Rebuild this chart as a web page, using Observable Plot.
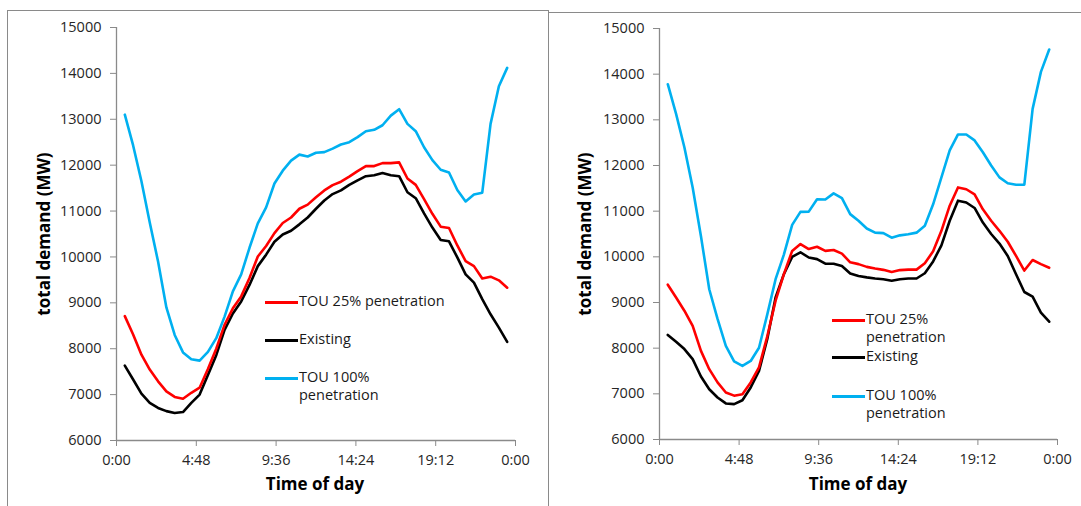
<!DOCTYPE html>
<html>
<head>
<meta charset="utf-8">
<script src="https://cdn.jsdelivr.net/npm/d3@7"></script>
<script src="https://cdn.jsdelivr.net/npm/@observablehq/plot@0.6"></script>
<style>
  html, body { margin: 0; padding: 0; background: #fff; }
  body { font-family: "Open Sans", sans-serif; }
  #page { position: relative; width: 1081px; height: 506px; overflow: hidden; background: #fff; }
  .box { position: absolute; border: 1.5px solid #8a8a8a; box-sizing: border-box; }
  .plot { position: absolute; top: 0; }
  .xlab { position: absolute; font-weight: bold; font-size: 17px; transform: translate(-50%, -50%); white-space: nowrap; color: #000; }
  .ylab { position: absolute; font-weight: bold; font-size: 17px; transform: translate(-50%, -50%) rotate(-90deg); white-space: nowrap; color: #000; }
  .legtxt { position: absolute; font-size: 14.5px; line-height: 18px; white-space: pre; color: #1a1a1a; }
  .sw { position: absolute; height: 3px; width: 33px; }
</style>
</head>
<body>
<div id="page"></div>
<script>
// ---------- data ----------
const hours = [0.5,1,1.5,2,2.5,3,3.5,4,4.5,5,5.5,6,6.5,7,7.5,8,8.5,9,9.5,10,10.5,11,11.5,12,12.5,13,13.5,14,14.5,15,15.5,16,16.5,17,17.5,18,18.5,19,19.5,20,20.5,21,21.5,22,22.5,23,23.5];

const seriesNames = ["TOU 25% penetration", "Existing", "TOU 100% penetration"];
const seriesColors = ["#ff0000", "#000000", "#00b0f0"];

// left panel
const leftTou25 = [8710,8310,7870,7545,7290,7070,6950,6910,7040,7150,7560,8000,8520,8880,9140,9540,10010,10240,10520,10740,10860,11050,11140,11300,11450,11565,11640,11750,11870,11980,11980,12045,12045,12060,11710,11570,11260,10940,10660,10630,10250,9910,9800,9530,9570,9490,9330];
const leftExisting = [7630,7330,7020,6820,6710,6640,6600,6620,6820,7000,7430,7860,8410,8770,9030,9390,9800,10050,10330,10490,10570,10710,10860,11050,11230,11370,11450,11570,11670,11760,11780,11830,11780,11760,11410,11280,10950,10640,10370,10340,9990,9620,9440,9080,8750,8460,8150];
const leftTou100 = [13100,12430,11650,10750,9900,8900,8300,7920,7770,7740,7930,8230,8700,9250,9620,10200,10730,11080,11600,11880,12100,12230,12190,12270,12285,12360,12450,12500,12610,12740,12770,12870,13080,13220,12900,12740,12390,12110,11900,11840,11460,11210,11360,11400,12900,13720,14120];

// right panel
const rightTou25 = [9390,9110,8820,8490,7940,7540,7250,7030,6960,6990,7250,7580,8260,9040,9620,10130,10280,10170,10220,10130,10150,10070,9880,9840,9780,9745,9715,9670,9710,9720,9720,9860,10120,10570,11120,11520,11480,11370,11040,10790,10570,10330,10020,9700,9930,9840,9760];
const rightExisting = [8290,8140,7980,7760,7380,7100,6920,6790,6775,6860,7140,7500,8200,9110,9620,10000,10100,9985,9950,9850,9850,9800,9635,9580,9550,9525,9510,9475,9510,9525,9525,9640,9900,10250,10790,11230,11190,11070,10750,10500,10290,10020,9620,9230,9130,8780,8580];
const rightTou100 = [13780,13130,12400,11520,10450,9290,8640,8050,7710,7610,7720,8010,8740,9510,10050,10700,10985,10990,11260,11255,11390,11285,10935,10790,10620,10530,10520,10420,10470,10495,10530,10680,11150,11740,12330,12680,12680,12550,12290,12000,11740,11610,11580,11580,13240,14050,14540];

const xTicks = [0, 4.8, 9.6, 14.4, 19.2, 24];
const xTickLabels = ["0:00", "4:48", "9:36", "14:24", "19:12", "0:00"];
const yTicks = [6000, 7000, 8000, 9000, 10000, 11000, 12000, 13000, 14000, 15000];
const xTitle = "Time of day";
const yTitle = "total demand (MW)";
const leftLegend = ["TOU 25% penetration", "Existing", "TOU 100%\npenetration"];
const rightLegend = ["TOU 25%\npenetration", "Existing", "TOU 100%\npenetration"];

// ---------- drawing ----------
const page = document.getElementById("page");

function addBox(left, top, width, height) {
  const d = document.createElement("div");
  d.className = "box";
  Object.assign(d.style, {left: left + "px", top: top + "px", width: width + "px", height: height + "px"});
  page.appendChild(d);
}
addBox(7, 10, 542, 520);
addBox(548, 12, 560, 520);

function panel(series, m) {
  const rows = [];
  series.forEach((vals, i) => vals.forEach((v, j) => rows.push({hour: hours[j], value: v, series: seriesNames[i]})));
  const order = [1, 0, 2];
  return Plot.plot({
    width: 541,
    height: 506,
    marginLeft: m.ml, marginRight: m.mr, marginTop: m.mt, marginBottom: m.mb,
    style: {fontFamily: '"Open Sans", sans-serif', fontSize: "14.5px", background: "transparent", color: "#262626", overflow: "visible"},
    x: {domain: [0, 24], label: null},
    y: {domain: [6000, 15000], label: null},
    color: {domain: seriesNames, range: seriesColors},
    marks: [
      Plot.ruleY([6000], {stroke: "#8a8a8a", strokeWidth: 1.3}),
      Plot.ruleX([0], {stroke: "#8a8a8a", strokeWidth: 1.3}),
      Plot.axisX({ticks: xTicks, tickFormat: d => xTickLabels[xTicks.indexOf(d)], tickSize: 6, tickPadding: 8, stroke: "#8a8a8a", fill: "#262626", label: null}),
      Plot.axisY({ticks: yTicks, tickFormat: d => String(d), tickSize: 6, tickPadding: 9, stroke: "#8a8a8a", fill: "#262626", label: null}),
      ...order.map(i => Plot.line(rows.filter(r => r.series === seriesNames[i]), {x: "hour", y: "value", stroke: "series", strokeWidth: 2.6}))
    ]
  });
}

function addPlot(svg, left) {
  svg.classList.add("plot");
  svg.style.left = left + "px";
  page.appendChild(svg);
}

addPlot(panel([leftTou25, leftExisting, leftTou100], {ml: 116, mr: 26, mt: 27, mb: 66}), 0);
addPlot(panel([rightTou25, rightExisting, rightTou100], {ml: 119, mr: 24, mt: 28, mb: 67}), 540);

function addText(cls, text, x, y) {
  const d = document.createElement("div");
  d.className = cls;
  d.textContent = text;
  d.style.left = x + "px";
  d.style.top = y + "px";
  page.appendChild(d);
}
addText("xlab", xTitle, 315, 483);
addText("xlab", xTitle, 858, 483);
addText("ylab", yTitle, 43, 234);
addText("ylab", yTitle, 584, 234);

function addLegend(labels, x, ys) {
  labels.forEach((lab, i) => {
    const sw = document.createElement("div");
    sw.className = "sw";
    sw.style.background = seriesColors[i];
    sw.style.left = x + "px";
    sw.style.top = (ys[i] - 1.5) + "px";
    page.appendChild(sw);
    const t = document.createElement("div");
    t.className = "legtxt";
    t.textContent = lab;
    t.style.left = (x + 34) + "px";
    t.style.top = (ys[i] - 10) + "px";
    page.appendChild(t);
  });
}
addLegend(leftLegend, 265, [302, 340, 378]);
addLegend(rightLegend, 832, [320, 357, 396]);
</script>
</body>
</html>
